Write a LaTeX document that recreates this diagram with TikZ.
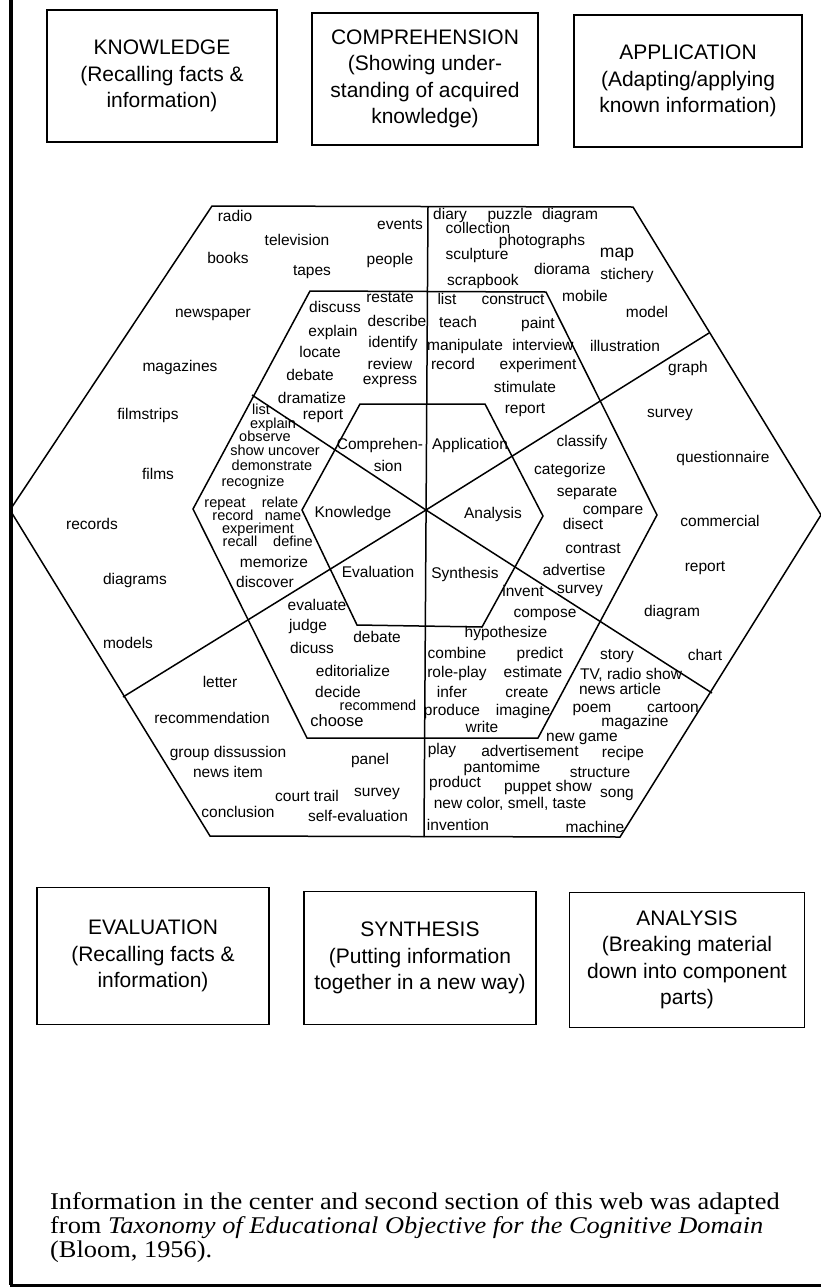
\documentclass[tikz,border=0pt]{standalone}
\usepackage{fontspec}
\setmainfont{Liberation Sans}
\newfontfamily\capfont{Liberation Serif}
\begin{document}
\begin{tikzpicture}[x=1pt,y=-1pt,
  wd/.style={font=\fontsize{15.5}{16}\selectfont, inner sep=0pt, text height=11.2pt, text depth=3.2pt},
  wds/.style={font=\fontsize{14.5}{15}\selectfont, inner sep=0pt, text height=10pt, text depth=2.8pt},
  box/.style={draw, line width=1.8pt, align=center, font=\fontsize{21}{26.5}\selectfont, inner sep=0pt},
  edge/.style={line width=1.5pt, line join=miter},
  captxt/.style={anchor=base west, inner sep=0pt, font=\capfont\fontsize{24}{24}\selectfont}]

\useasboundingbox (0,0) rectangle (821,1288);
\fill[white] (0,0) rectangle (821,1288);

% page frame
\coordinate (FT) at (11,0);
\coordinate (FB) at (11,1285);
\coordinate (FR) at (821,1285);
\draw[line width=4pt] (FT) -- (FB);
\draw[line width=3pt] (9.5,1285) -- (FR);

% boxes
\node[box, minimum width=230pt, minimum height=132pt] (bK) at (162,76) {KNOWLEDGE\\(Recalling facts \&\\information)};
\node[box, minimum width=226pt, minimum height=132pt] (bC) at (425,79) {COMPREHENSION\\(Showing under-\\standing of acquired\\knowledge)};
\node[box, minimum width=228pt, minimum height=132pt] (bA) at (688,81) {APPLICATION\\(Adapting/applying\\known information)};
\node[box, minimum width=232pt, minimum height=137pt] (bE) at (153,956) {EVALUATION\\(Recalling facts \&\\information)};
\node[box, minimum width=232pt, minimum height=133pt] (bS) at (420,958) {SYNTHESIS\\(Putting information\\together in a new way)};
\node[box, minimum width=235pt, minimum height=135pt] (bN) at (687,960) {ANALYSIS\\(Breaking material\\down into component\\parts)};

% hexagons
\coordinate (O1) at (10,510);  \coordinate (O2) at (212,206); \coordinate (O3) at (633,207);
\coordinate (O4) at (821,515); \coordinate (O5) at (620,837); \coordinate (O6) at (210,836);
\coordinate (M1) at (193,509); \coordinate (M2) at (310,291); \coordinate (M3) at (546,292);
\coordinate (M4) at (657,515); \coordinate (M5) at (538,738); \coordinate (M6) at (307,738);
\coordinate (I1) at (302,510); \coordinate (I2) at (360,404); \coordinate (I3) at (485,404);
\coordinate (I4) at (543,516); \coordinate (I5) at (482,627); \coordinate (I6) at (357,625);
\draw[edge] (O1) -- (O2) -- (O3) -- (O4) -- (O5) -- (O6) -- cycle;
\draw[edge] (M1) -- (M2) -- (M3) -- (M4) -- (M5) -- (M6) -- cycle;
\draw[edge] (I1) -- (I2) -- (I3) -- (I4) -- (I5) -- (I6) -- cycle;

% spokes
\coordinate (C) at (426,510);
\coordinate (Vt) at (428,207); \coordinate (Vb) at (424,837);
\coordinate (Sul) at (252,395); \coordinate (Sur) at (709,333);
\coordinate (Sll) at (123,697); \coordinate (Slr) at (712,693);
\draw[edge] (Vt) -- (Vb);
\draw[edge] (C) -- (Sul);
\draw[edge] (C) -- (Sur);
\draw[edge] (C) -- (Sll);
\draw[edge] (C) -- (Slr);

% center labels
\node[wd] (L1) at (380,445) {Comprehen-};
\node[wd] (L2) at (388,467) {sion};
\node[wd] (L3) at (470,445) {Application};
\node[wd] (L4) at (353,513) {Knowledge};
\node[wd] (L5) at (493,514) {Analysis};
\node[wd] (L6) at (378,573) {Evaluation};
\node[wd] (L7) at (465,574) {Synthesis};

% outer upper-left
\node[wd] (k1) at (235,217) {radio};
\node[wd] (k2) at (297,241) {television};
\node[wd] (k3) at (228,259) {books};
\node[wd] (k4) at (312,271) {tapes};
\node[wd] (k5) at (400,225) {events};
\node[wd] (k6) at (390,260) {people};
\node[wd] (k7) at (213,313) {newspaper};
\node[wd] (k8) at (180,367) {magazines};
\node[wd] (k9) at (148,415) {filmstrips};
\node[wd] (k10) at (158,475) {films};
\node[wd] (k11) at (92,525) {records};
\node[wd] (k12) at (135,580) {diagrams};
\node[wd] (k13) at (128,644) {models};

% middle comprehension
\node[wd] (c1) at (335,308) {discuss};
\node[wd] (c2) at (333,332) {explain};
\node[wd] (c3) at (320,353) {locate};
\node[wd] (c4) at (310,376) {debate};
\node[wd] (c5) at (312,399) {dramatize};
\node[wd] (c6) at (323,415) {report};
\node[wd] (c7) at (390,298) {restate};
\node[wd] (c8) at (397,322) {describe};
\node[wd] (c9) at (393,343) {identify};
\node[wd] (c10) at (390,365) {review};
\node[wd] (c11) at (390,380) {express};

% middle knowledge
\node[wds] (n1) at (261,411) {list};
\node[wds] (n2) at (273,425) {explain};
\node[wds] (n3) at (265,438) {observe};
\node[wds] (n4) at (275,452) {show uncover};
\node[wds] (n5) at (272,467) {demonstrate};
\node[wds] (n6) at (253,483) {recognize};
\node[wds] (n7) at (225,504) {repeat};
\node[wds] (n8) at (280,504) {relate};
\node[wds] (n9) at (233,517) {record};
\node[wds] (n10) at (283,517) {name};
\node[wds] (n11) at (258,530) {experiment};
\node[wds] (n12) at (240,543) {recall};
\node[wds] (n13) at (293,543) {define};
\node[wd] (n14) at (274,563) {memorize};
\node[wd] (n15) at (265,583) {discover};

% middle application
\node[wd] (a1) at (447,300) {list};
\node[wd] (a2) at (513,300) {construct};
\node[wd] (a3) at (458,323) {teach};
\node[wd] (a4) at (538,324) {paint};
\node[wd] (a5) at (465,346) {manipulate};
\node[wd] (a6) at (543,346) {interview};
\node[wd] (a7) at (453,365) {record};
\node[wd] (a8) at (538,365) {experiment};
\node[wd] (a9) at (525,388) {stimulate};
\node[wd] (a10) at (525,409) {report};

% outer application
\node[wd] (p1) at (450,215) {diary};
\node[wd] (p2) at (510,215) {puzzle};
\node[wd] (p3) at (570,215) {diagram};
\node[wd] (p4) at (478,229) {collection};
\node[wd] (p5) at (542,241) {photographs};
\node[wd] (p6) at (477,255) {sculpture};
\node[wd, font=\fontsize{17.5}{18}\selectfont] (p7) at (617,253) {map};
\node[wd] (p8) at (562,270) {diorama};
\node[wd] (p9) at (627,275) {stichery};
\node[wd] (p10) at (483,281) {scrapbook};
\node[wd] (p11) at (585,297) {mobile};
\node[wd] (p12) at (647,313) {model};
\node[wd] (p13) at (625,347) {illustration};

% outer analysis
\node[wd] (q1) at (688,368) {graph};
\node[wd] (q2) at (670,413) {survey};
\node[wd] (q3) at (723,458) {questionnaire};
\node[wd] (q4) at (720,522) {commercial};
\node[wd] (q5) at (705,567) {report};
\node[wd] (q6) at (672,612) {diagram};
\node[wd] (q7) at (705,656) {chart};

% middle analysis
\node[wd] (m1) at (582,442) {classify};
\node[wd] (m2) at (570,470) {categorize};
\node[wd] (m3) at (587,492) {separate};
\node[wd] (m4) at (613,510) {compare};
\node[wd] (m5) at (583,525) {disect};
\node[wd] (m6) at (593,549) {contrast};
\node[wd] (m7) at (574,571) {advertise};
\node[wd] (m8) at (580,589) {survey};

% middle synthesis
\node[wd] (s1) at (523,592) {invent};
\node[wd] (s2) at (545,613) {compose};
\node[wd] (s3) at (506,633) {hypothesize};
\node[wd] (s4) at (457,654) {combine};
\node[wd] (s5) at (540,654) {predict};
\node[wd] (s6) at (457,673) {role-play};
\node[wd] (s7) at (533,673) {estimate};
\node[wd] (s8) at (452,693) {infer};
\node[wd] (s9) at (527,693) {create};
\node[wd] (s10) at (452,711) {produce};
\node[wd] (s11) at (523,711) {imagine};
\node[wd] (s12) at (482,728) {write};

% outer synthesis
\node[wd] (y1) at (617,655) {story};
\node[wd] (y2) at (631,675) {TV, radio show};
\node[wd] (y3) at (620,690) {news article};
\node[wd] (y4) at (592,708) {poem};
\node[wd] (y5) at (673,708) {cartoon};
\node[wd] (y6) at (635,722) {magazine};
\node[wd] (y7) at (582,737) {new game};
\node[wd] (y8) at (442,750) {play};
\node[wd] (y9) at (530,752) {advertisement};
\node[wd] (y10) at (623,753) {recipe};
\node[wd] (y11) at (502,768) {pantomime};
\node[wd] (y12) at (600,773) {structure};
\node[wd] (y13) at (455,783) {product};
\node[wd] (y14) at (548,787) {puppet show};
\node[wd] (y15) at (617,793) {song};
\node[wd] (y16) at (510,804) {new color, smell, taste};
\node[wd] (y17) at (458,826) {invention};
\node[wd] (y18) at (595,828) {machine};

% middle evaluation
\node[wd] (e1) at (317,606) {evaluate};
\node[wd] (e2) at (308,626) {judge};
\node[wd] (e3) at (377,638) {debate};
\node[wd] (e4) at (312,649) {dicuss};
\node[wd] (e5) at (353,672) {editorialize};
\node[wd] (e6) at (338,693) {decide};
\node[wd, font=\fontsize{14.5}{15}\selectfont] (e7) at (378,706) {recommend};
\node[wd, font=\fontsize{16.5}{17}\selectfont] (e8) at (337,722) {choose};

% outer evaluation
\node[wd] (v1) at (220,683) {letter};
\node[wd] (v2) at (212,719) {recommendation};
\node[wd] (v3) at (228,753) {group dissussion};
\node[wd] (v4) at (228,773) {news item};
\node[wd] (v5) at (238,813) {conclusion};
\node[wd] (v6) at (307,797) {court trail};
\node[wd] (v7) at (370,760) {panel};
\node[wd] (v8) at (377,792) {survey};
\node[wd] (v9) at (358,817) {self-evaluation};

% caption
\node[captxt] (cap1) at (50,1209) {\scalebox{1.1}[1]{Information in the center and second section of this web was adapted}};
\node[captxt] (cap2) at (50,1233) {\scalebox{1.1}[1]{from \textit{Taxonomy of Educational Objective for the Cognitive Domain}}};
\node[captxt] (cap3) at (50,1257) {\scalebox{1.1}[1]{(Bloom, 1956).}};
\end{tikzpicture}
\end{document}
